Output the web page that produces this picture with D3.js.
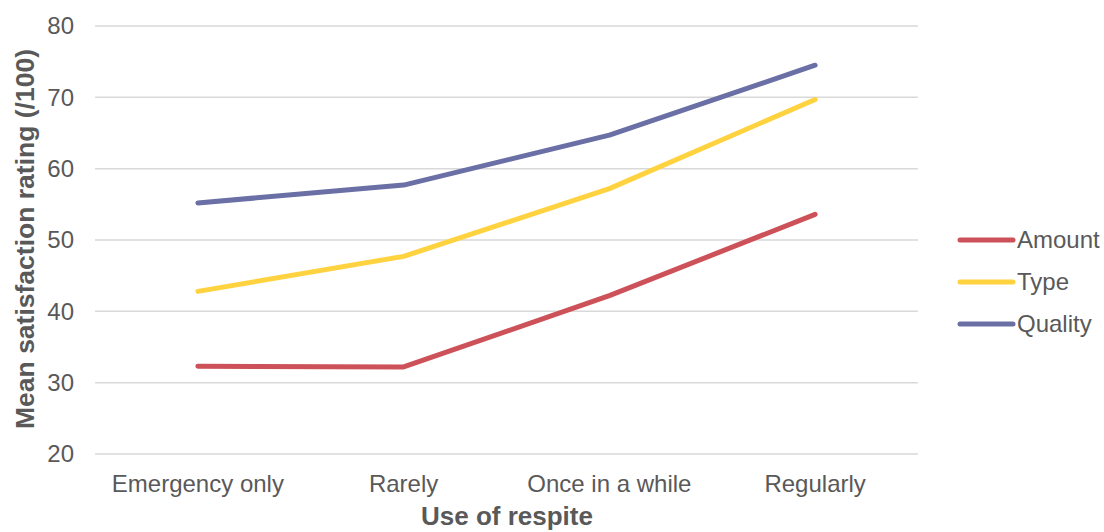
<!DOCTYPE html>
<html><head><meta charset="utf-8">
<script src="https://cdn.jsdelivr.net/npm/d3@7"></script>
<style>body{margin:0;background:#fff}svg{display:block}text{font-family:"Liberation Sans",Arial,sans-serif}</style>
</head><body>
<svg id="c" width="1104" height="532"></svg>
<script>
const categories = ["Emergency only","Rarely","Once in a while","Regularly"];
const amount = [32.3, 32.2, 42.2, 53.6];
const type = [42.8, 47.7, 57.2, 69.7];
const quality = [55.2, 57.7, 64.7, 74.5];
const seriesNames = ["Amount","Type","Quality"];
const seriesColors = ["#CD5158","#FFD23F","#6A6FA5"];
const yTicks = [20,30,40,50,60,70,80];

(function(){
const series = [amount, type, quality].map((v,i)=>({name:seriesNames[i], color:seriesColors[i], values:v}));
const svg = d3.select("#c");
const pL=95, pR=918, pT=26, pB=454;
const x = d3.scalePoint().domain(categories).range([pL,pR]).padding(0.5);
const y = d3.scaleLinear().domain([20,80]).range([pB,pT]);

svg.append("g").selectAll("line").data(yTicks).join("line")
  .attr("x1",pL).attr("x2",pR).attr("y1",d=>y(d)).attr("y2",d=>y(d))
  .attr("stroke","#d9d9d9").attr("stroke-width",1.5);
svg.append("g").selectAll("text").data(yTicks).join("text")
  .attr("x",74).attr("y",d=>y(d)).attr("dy","0.35em").attr("text-anchor","end")
  .attr("fill","#595959").attr("font-size",24).text(d=>d);
svg.append("g").selectAll("text").data(categories).join("text")
  .attr("x",d=>x(d)).attr("y",492).attr("text-anchor","middle")
  .attr("fill","#595959").attr("font-size",24).text(d=>d);

const line = d3.line().x((d,i)=>x(categories[i])).y(d=>y(d));
svg.append("g").selectAll("path").data(series).join("path")
  .attr("d",d=>line(d.values)).attr("fill","none").attr("stroke",d=>d.color)
  .attr("stroke-width",5).attr("stroke-linecap","round").attr("stroke-linejoin","round");

svg.append("text").attr("x",507).attr("y",525).attr("text-anchor","middle")
  .attr("fill","#595959").attr("font-size",26).attr("font-weight","bold").text("Use of respite");
svg.append("text").attr("transform","translate(34,239) rotate(-90)").attr("text-anchor","middle")
  .attr("fill","#595959").attr("font-size",26.5).attr("font-weight","bold").text("Mean satisfaction rating (/100)");

const lg = svg.append("g").selectAll("g").data(series).join("g")
  .attr("transform",(d,i)=>`translate(0,${240+i*42})`);
lg.append("line").attr("x1",960).attr("x2",1013).attr("stroke",d=>d.color)
  .attr("stroke-width",5).attr("stroke-linecap","round");
lg.append("text").attr("x",1017).attr("dy","0.35em").attr("fill","#595959")
  .attr("font-size",24).text(d=>d.name);
})();
</script>
</body></html>
